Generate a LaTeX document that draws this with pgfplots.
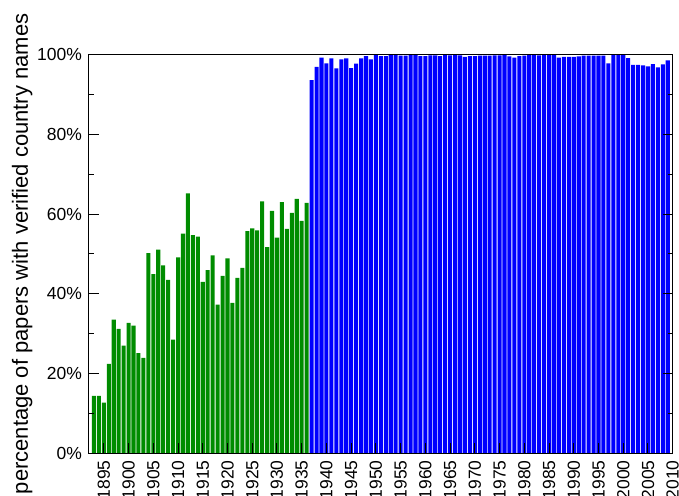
\documentclass[border=0pt]{standalone}
\usepackage{fontspec}
\setmainfont{Liberation Sans}
\usepackage{pgfplots}
\pgfplotsset{compat=1.18}
\definecolor{bargreen}{RGB}{0,140,0}
\definecolor{barblue}{RGB}{0,0,255}

\begin{document}
\begin{tikzpicture}
\begin{axis}[
  name=ax,
  scale only axis,
  width=291.85pt, height=199.4pt,
  xmin=1892, xmax=2010,
  ymin=0, ymax=100,
  axis on top,
  xtick={1895,1900,...,2010},
  xtick pos=left,
  ytick={0,20,...,100},
  minor y tick num=1,
  tick align=inside,
  major tick length=5pt,
  minor tick length=2.5pt,
  yticklabel={\pgfmathprintnumber{\tick}\%},
  /pgf/number format/assume math mode=true,
  xticklabel style={rotate=90, anchor=east, font=\fontsize{8.75}{10}\selectfont, /pgf/number format/1000 sep={}},
  yticklabel style={font=\fontsize{8.75}{10}\selectfont},
  ylabel={percentage of papers with verified country names},
  ylabel style={at={(axis description cs:-0.1045,0.5)}, anchor=base, font=\fontsize{11}{13}\selectfont},
  every tick/.style={black, line width=0.5pt},
  axis line style={line width=0.5pt},
]
% before 1937
\addplot[ybar, bar width=0.82, fill=bargreen, draw=none] coordinates {
(1893,14.4) (1894,14.4) (1895,12.7) (1896,22.4) (1897,33.5) (1898,31.2)
(1899,27.0) (1900,32.7) (1901,32.0) (1902,25.1) (1903,23.9) (1904,50.2)
(1905,44.9) (1906,51.1) (1907,47.1) (1908,43.5) (1909,28.5) (1910,49.1)
(1911,55.1) (1912,65.2) (1913,54.7) (1914,54.3) (1915,43.0) (1916,45.9)
(1917,49.6) (1918,37.3) (1919,44.5) (1920,48.9) (1921,37.7) (1922,44.0)
(1923,46.5) (1924,55.7) (1925,56.4) (1926,55.9) (1927,63.2) (1928,51.7)
(1929,60.8) (1930,54.1) (1931,63.0) (1932,56.3) (1933,60.3) (1934,63.8)
(1935,58.3) (1936,62.8)
};
% 1937 onwards
\addplot[ybar, bar width=0.82, fill=barblue, draw=none] coordinates {
(1937,93.6) (1938,96.9) (1939,99.2) (1940,97.8) (1941,99.0) (1942,96.5)
(1943,98.8) (1944,99.0) (1945,96.6) (1946,97.7) (1947,99.0) (1948,99.6)
(1949,98.8) (1950,99.9) (1951,99.6) (1952,99.6) (1953,100) (1954,100)
(1955,99.7) (1956,99.7) (1957,100) (1958,100) (1959,99.6) (1960,99.6)
(1961,99.8) (1962,99.8) (1963,99.6) (1964,100) (1965,99.8) (1966,99.9)
(1967,99.8) (1968,99.4) (1969,99.6) (1970,99.6) (1971,99.7) (1972,99.7)
(1973,99.7) (1974,99.8) (1975,99.8) (1976,100) (1977,99.5) (1978,99.2)
(1979,99.6) (1980,99.7) (1981,100) (1982,100) (1983,99.8) (1984,100)
(1985,100) (1986,100) (1987,99.2) (1988,99.4) (1989,99.4) (1990,99.4)
(1991,99.5) (1992,99.7) (1993,99.7) (1994,99.7) (1995,99.7) (1996,99.7)
(1997,97.8) (1998,100) (1999,100) (2000,100) (2001,99.1) (2002,97.4)
(2003,97.4) (2004,97.3) (2005,97.0) (2006,97.6) (2007,96.8) (2008,97.5)
(2009,98.5)
};
\end{axis}
\pgfresetboundingbox
\path[use as bounding box] (ax.south west) ++(-44.5pt,-21.35pt) rectangle ++(339.5pt,248pt);
\end{tikzpicture}
\end{document}
